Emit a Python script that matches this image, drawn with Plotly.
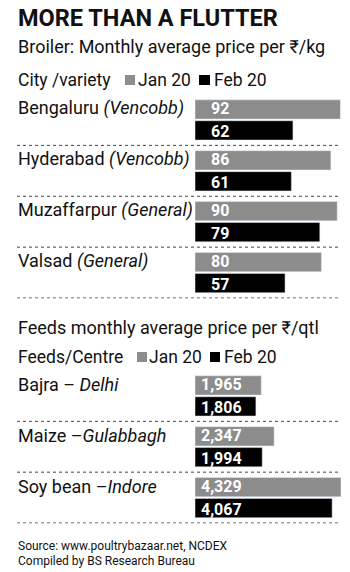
import plotly.graph_objects as go

# ---- data ----
broiler_city = ["Bengaluru", "Hyderabad", "Muzaffarpur", "Valsad"]
broiler_variety = ["Vencobb", "Vencobb", "General", "General"]
broiler_jan = [92, 86, 90, 80]
broiler_feb = [62, 61, 79, 57]

feeds_item = ["Bajra", "Maize", "Soy bean"]
feeds_sep = [" – ", " –", " –"]
feeds_centre = ["Delhi", "Gulabbagh", "Indore"]
feeds_jan = [1965, 2347, 4329]
feeds_feb = [1806, 1994, 4067]

series_names = ["Jan 20", "Feb 20"]
GRAY = "#8c8c8c"
BLACK = "#000000"
TXT = "#111111"
W, H = 350, 572
FONT = "Roboto"
TFONT = "Liberation Sans Narrow, Roboto"


def py(px):
    return 1 - px / H


def pxx(px):
    return px / W


fig = go.Figure()
fig.add_trace(go.Bar(y=broiler_city, x=broiler_jan, orientation="h", marker_color=GRAY,
                     name=series_names[0], xaxis="x", yaxis="y", hoverinfo="x+y"))
fig.add_trace(go.Bar(y=broiler_city, x=broiler_feb, orientation="h", marker_color=BLACK,
                     name=series_names[1], xaxis="x", yaxis="y", hoverinfo="x+y"))
fig.add_trace(go.Bar(y=feeds_item, x=feeds_jan, orientation="h", marker_color=GRAY,
                     name=series_names[0], xaxis="x2", yaxis="y2", hoverinfo="x+y"))
fig.add_trace(go.Bar(y=feeds_item, x=feeds_feb, orientation="h", marker_color=BLACK,
                     name=series_names[1], xaxis="x2", yaxis="y2", hoverinfo="x+y"))

ann = []
shapes = []

# value labels inside bars
for cats, jan, feb, yref, xref, xs, fmt in [
    (broiler_city, broiler_jan, broiler_feb, "y", "x", 14, "{:d}"),
    (feeds_item, feeds_jan, feeds_feb, "y2", "x2", 4, "{:,}"),
]:
    for c, a, b in zip(cats, jan, feb):
        for v, ys in [(a, 11.5), (b, -11.5)]:
            ann.append(dict(x=0, y=c, xref=xref, yref=yref, xanchor="left", yanchor="middle",
                            xshift=xs, yshift=ys, text="<b>" + fmt.format(v) + "</b>",
                            showarrow=False, font=dict(family=FONT, size=16, color="white")))

# category labels
for c, v in zip(broiler_city, broiler_variety):
    ann.append(dict(x=pxx(16), y=c, xref="paper", yref="y", xanchor="left", yanchor="middle",
                    yshift=11.5, text=f"{c} <i>({v})</i>", showarrow=False,
                    font=dict(family=FONT, size=18, color=TXT)))
for c, s, v in zip(feeds_item, feeds_sep, feeds_centre):
    ann.append(dict(x=pxx(16), y=c, xref="paper", yref="y2", xanchor="left", yanchor="middle",
                    yshift=11.5, text=f"{c}{s}<i>{v}</i>", showarrow=False,
                    font=dict(family=FONT, size=18, color=TXT)))

# dotted separators
for i in range(len(broiler_city)):
    shapes.append(dict(type="line", xref="paper", yref="y", x0=pxx(17), x1=pxx(340),
                       y0=i + 0.5, y1=i + 0.5, line=dict(color="#444", width=1, dash="dot")))
for i in range(len(feeds_item)):
    shapes.append(dict(type="line", xref="paper", yref="y2", x0=pxx(17), x1=pxx(340),
                       y0=i + 0.5, y1=i + 0.5, line=dict(color="#444", width=1, dash="dot")))


def text(x, y, t, size, bold=False, family=FONT, color=TXT):
    ann.append(dict(x=pxx(x), y=py(y), xref="paper", yref="paper", xanchor="left",
                    yanchor="middle", text=("<b>%s</b>" % t) if bold else t, showarrow=False,
                    font=dict(family=family, size=size, color=color)))


text(16, 18, "MORE THAN A FLUTTER", 23.5, bold=True, family=TFONT)
text(16, 46, "Broiler: Monthly average price per ₹/kg", 18)
text(16, 80, "City /variety", 17.5)
text(136, 80, series_names[0], 17.5)
text(212, 80, series_names[1], 17.5)
shapes.append(dict(type="rect", xref="paper", yref="paper", x0=pxx(125), x1=pxx(135),
                   y0=py(85), y1=py(75), fillcolor=GRAY, line_width=0))
shapes.append(dict(type="rect", xref="paper", yref="paper", x0=pxx(199), x1=pxx(210),
                   y0=py(85), y1=py(75), fillcolor=BLACK, line_width=0))

text(16, 327, "Feeds monthly average price per ₹/qtl", 18)
text(16, 357, "Feeds/Centre", 17.5)
text(147, 357, series_names[0], 17.5)
text(222, 357, series_names[1], 17.5)
shapes.append(dict(type="rect", xref="paper", yref="paper", x0=pxx(137), x1=pxx(147),
                   y0=py(362), y1=py(352), fillcolor=GRAY, line_width=0))
shapes.append(dict(type="rect", xref="paper", yref="paper", x0=pxx(210), x1=pxx(220),
                   y0=py(362), y1=py(352), fillcolor=BLACK, line_width=0))

text(16, 546, "Source: www.poultrybazaar.net, NCDEX", 12)
text(16, 561, "Compiled by BS Research Bureau", 12)

fig.update_layout(
    width=W, height=H, margin=dict(l=0, r=0, t=0, b=0),
    paper_bgcolor="white", plot_bgcolor="white",
    barmode="group", bargap=0.176, bargroupgap=0.08, showlegend=False,
    xaxis=dict(domain=[pxx(195), 1], range=[0, 155 / 1.58], visible=False, fixedrange=True),
    yaxis=dict(domain=[py(298.5), py(94.5)], autorange="reversed", visible=False,
               type="category", fixedrange=True),
    xaxis2=dict(domain=[pxx(195), 1], range=[0, 155 / 0.03372], visible=False, anchor="y2",
                fixedrange=True),
    yaxis2=dict(domain=[py(523.5), py(370.5)], autorange="reversed", visible=False,
                type="category", anchor="x2", fixedrange=True),
    annotations=ann, shapes=shapes,
)

fig.write_html("out.html")
